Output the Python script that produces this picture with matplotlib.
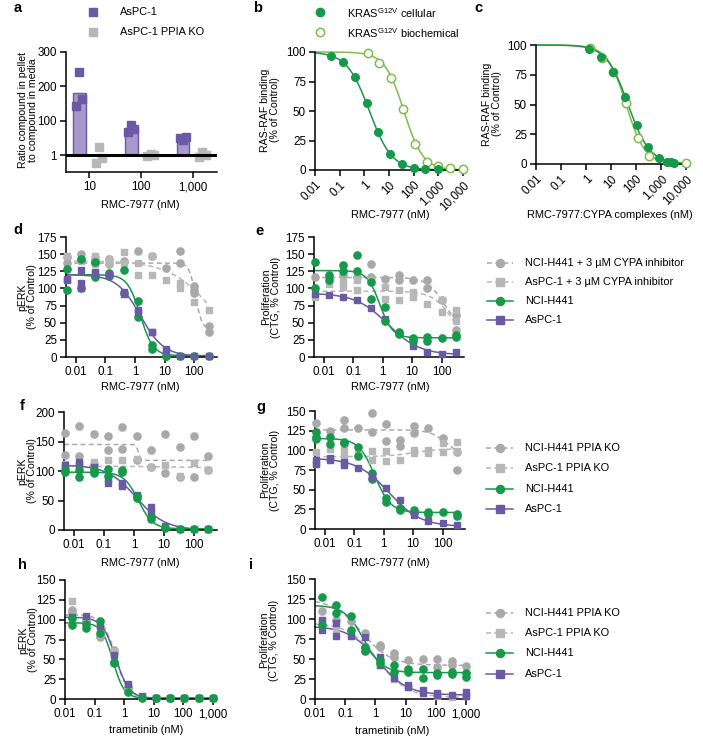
import numpy as np
import matplotlib
matplotlib.use("Agg")
import matplotlib.pyplot as plt
from matplotlib.lines import Line2D
from matplotlib.ticker import FixedLocator, NullLocator, FixedFormatter

plt.rcParams['font.family'] = ['Liberation Sans', 'DejaVu Sans']
plt.rcParams['mathtext.fontset'] = 'custom'
plt.rcParams['mathtext.rm'] = 'Liberation Sans'
plt.rcParams['mathtext.it'] = 'Liberation Sans'

# ---------------- data ----------------
# panel a
a_categories = ['10', '100', '1,000']
a_aspc_bar = [180, 38, 12]
a_aspc_pts = [[241, 143, 163], [61, 23, 34], [8, 10, 11.5]]
a_ko_pts = [[0.38, 3.2, 0.76], [0.9, 1.2, 1.1], [0.8, 1.66, 1.1]]

# panel b
b_conc_cell = [0.046, 0.137, 0.41, 1.23, 3.7, 11, 33, 100, 300, 1000]
b_cell = [96.6, 91.5, 78.8, 56.8, 32, 13.6, 5, 2, 1, 0.5]
b_conc_bio = [1.37, 4.1, 12.3, 37, 111, 333, 1000, 3000, 10000]
b_bio = [99, 91, 78, 52, 22, 7, 3, 1.5, 0.5]
b_fit_cell = (100, 0, 1.6, 0.95)
b_fit_bio = (100, 0, 40, 1.12)

# panel c
c_conc_cell = [1.3, 4, 12, 36, 110, 300, 830, 1800, 2600, 3300]
c_cell = [96.6, 90, 77, 56, 33, 14, 5, 1.5, 1.5, 0.5]
c_conc_bio = [1.4, 4.2, 12.5, 39, 120, 330, 10000]
c_bio = [97.5, 89, 77, 51, 22, 7, 0.5]
c_fit_cell = (100, 0, 48, 1.0)
c_fit_bio = (100, 0, 40, 1.15)

# RMC-7977 and trametinib concentrations (nM)
conc_rmc = [0.005, 0.015, 0.046, 0.137, 0.41, 1.23, 3.7, 11, 33, 100, 300]
conc_tram = [0.017, 0.051, 0.152, 0.457, 1.37, 4.1, 12.3, 37, 111, 333, 1000]

# panel d (pERK, +/- CYPA inhibitor)
d_h441 = [[129, 98], [143, 101], [138, 117], [122, 118], [127, 93], [81, 59], [18, 11], [2, 2], [2], [2], [2]]
d_aspc = [[114, 112], [127, 108, 101], [124, 122], [120], [95, 92], [68, 66], [37, 36], [11, 9], [2], [2], [2]]
d_h441_inh = [[146, 137], [150, 142], [145, 137], [143, 136], [140], [155], [148], [130], [155, 137], [103, 97, 93], [45, 36]]
d_aspc_inh = [[148], [140], [148, 135], [143, 137], [153, 137], [137, 119], [148, 120], [112], [108, 100], [80], [68]]
d_fit_h441 = (120, 2, 1.5, 2.0)
d_fit_aspc = (120, 1, 1.5, 1.1)
d_fit_h441_inh = (137, 40, 110, 4.0)
d_fit_aspc_inh = (140, 0, 400, 0.6)

# panel e (proliferation, +/- CYPA inhibitor)
e_h441 = [[138, 101], [120, 113], [134, 126], [149, 126], [109, 84], [73, 53], [36, 34], [27, 24], [29, 23], [28], [32, 29]]
e_aspc = [[92], [90], [87], [83], [72], [56], [35], [16], [8], [5], [7]]
e_h441_inh = [[117], [116], [119], [117], [136, 117], [114], [120, 112], [113], [112, 100], [83], [61, 39]]
e_aspc_inh = [[87], [107], [109, 102], [112, 97], [112], [102, 85], [97, 83], [95, 87], [78], [83, 66], [68, 53]]
e_fit_h441 = (126, 28, 0.8, 2.0)
e_fit_aspc = (93, 3, 1.5, 0.8)
e_fit_h441_inh = (116, 40, 120, 1.5)
e_fit_aspc_inh = (96, 0, 300, 1.2)

# panel f (pERK, PPIA KO)
f_h441_ko = [[164, 127], [176, 125], [163, 112], [160, 135], [175, 138], [160, 118], [135, 107], [163, 96], [141, 90], [159, 90], [125, 101]]
f_aspc_ko = [[112], [110], [115], [118], [118], [121], [107], [110], [91], [113], [101]]
f_h441 = [[101, 98], [101, 89], [102, 96], [103, 91], [101, 98], [57, 55], [22, 18], [3], [2], [2], [2]]
f_aspc = [[111, 107], [115, 112], [107, 104], [87, 79], [79, 74], [59, 57], [39, 31], [6], [2], [2], [2]]
f_fit_h441_ko = (145, 118, 1.4, 12)
f_fit_aspc_ko = (108, 106, 10, 1.0)
f_fit_h441 = (98, 2, 1.4, 1.8)
f_fit_aspc = (110, 0, 1.2, 0.9)

# panel g (proliferation, PPIA KO)
g_h441_ko = [[135], [125], [139, 128], [128], [147, 123], [133, 112], [113, 105], [131, 122], [129], [116], [98, 75]]
g_aspc_ko = [[98, 83], [102], [100, 91], [95], [99, 88], [99, 87], [88], [101, 97], [100, 97], [109, 98], [111, 99]]
g_h441 = [[123, 117, 115], [117, 108], [111, 109], [104, 93], [71, 63], [40, 34], [27, 24], [24, 20], [22, 19], [21], [19, 17]]
g_aspc = [[88, 83], [90, 88], [85, 81], [78], [68, 66], [52], [37], [18], [10], [7], [5]]
g_fit_h441_ko = (126, 90, 150, 1.5)
g_fit_aspc_ko = (92, 102, 10, 1.0)
g_fit_h441 = (115, 21, 0.5, 1.6)
g_fit_aspc = (90, 3, 1.5, 0.8)

# panel h (pERK, trametinib)
h_h441_ko = [[112, 108], [100, 98], [80, 78], [62, 58], [15, 14], [3], [1], [1], [1], [1], [1]]
h_aspc_ko = [[123], [100], [92], [60], [17], [3], [1], [1], [1], [1], [1]]
h_h441 = [[102, 93], [95, 90], [98, 83], [47, 45], [9], [1], [1], [1], [1], [1], [1]]
h_aspc = [[103], [105], [92], [55], [19], [4], [1], [1], [1], [1], [1]]
h_fit_h441_ko = (106, 1, 0.5, 2.0)
h_fit_aspc_ko = (106, 1, 0.52, 2.0)
h_fit_h441 = (96, 1, 0.42, 2.3)
h_fit_aspc = (103, 1, 0.52, 1.9)

# panel i (proliferation, trametinib)
i_h441_ko = [[110], [99], [98], [82], [68, 65], [57, 53], [49], [50], [50, 40], [47, 43], [41]]
i_aspc_ko = [[98], [87], [80], [65], [43], [25], [15], [7], [4], [3], [4]]
i_h441 = [[128, 93], [118, 107], [104, 86], [65, 60], [49, 45], [43, 34], [38, 34], [37, 26], [32, 30], [34, 31], [33, 28]]
i_aspc = [[99, 86], [95, 79], [79], [78, 61], [53, 43], [26], [18, 15], [11, 8], [7, 5], [5], [9, 4]]
i_fit_h441_ko = (125, 42, 0.35, 0.9)
i_fit_aspc_ko = (95, 2, 1.2, 0.9)
i_fit_h441 = (117, 33, 0.4, 1.4)
i_fit_aspc = (91, 5, 1.2, 0.9)

# ---------------- styles ----------------
GREEN = '#16994b'
LGREEN = '#7dbd4c'
PURPLE = '#6a5aa6'
BARFILL = '#a898cb'
GRAYC = '#a9a9a9'
GRAYS = '#b7b7b7'
TICK_FS = 8.4
LAB_FS = 7.9
YLAB_FS = 7.6
LEG_FS = 7.9
DASH = (3.2, 2.2)

W, H = 703, 744
fig = plt.figure(figsize=(W / 100, H / 100), dpi=100)


def add_ax(x0, y0, x1, y1):
    return fig.add_axes([x0 / W, 1 - y1 / H, (x1 - x0) / W, (y1 - y0) / H])


def style(ax):
    for s in ('top', 'right'):
        ax.spines[s].set_visible(False)
    for s in ('left', 'bottom'):
        ax.spines[s].set_linewidth(1.1)
    ax.tick_params(direction='out', length=4.5, width=1.1, labelsize=TICK_FS, pad=2)
    ax.tick_params(which='minor', length=0)


def ftext(x, y, s, **kw):
    fig.text(x / W, 1 - y / H, s, **kw)


def ylab(x, y, s):
    ftext(x, y, s, fontsize=YLAB_FS, rotation=90, ha='center', va='center', linespacing=1.0)


def xlab(x, y, s):
    ftext(x, y, s, fontsize=LAB_FS, ha='center', va='center')


def logistic(x, top, bottom, ic50, hill):
    return bottom + (top - bottom) / (1 + (x / ic50) ** hill)


def reps_xy(conc, reps):
    xs = [c for c, r in zip(conc, reps) for _ in r]
    ys = [v for r in reps for v in r]
    return xs, ys


S_H441 = dict(color=GREEN, marker='o', ms=5.2, mfc=GREEN, mec=GREEN, ls='-')
S_ASPC = dict(color=PURPLE, marker='s', ms=4.8, mfc=PURPLE, mec=PURPLE, ls='-')
S_H441G = dict(color=GRAYC, marker='o', ms=5.2, mfc=GRAYC, mec=GRAYC, ls='--')
S_ASPCG = dict(color=GRAYS, marker='s', ms=4.8, mfc=GRAYS, mec=GRAYS, ls='--')


def dose_panel(ax, conc, series, xlim, ylim, yticks, xticks, xticklabels):
    style(ax)
    ax.set_xscale('log')
    ax.set_xlim(*xlim)
    ax.set_ylim(*ylim)
    xc = np.logspace(np.log10(xlim[0]), np.log10(conc[-1]), 400)
    for reps, fit, st in series:
        xs, ys = reps_xy(conc, reps)
        ax.plot(xs, ys, ls='none', marker=st['marker'], ms=st['ms'], mfc=st['mfc'],
                mec=st['mec'], clip_on=False, zorder=3)
        kw = dict(color=st['color'], lw=1.1, zorder=2, clip_on=False)
        if st['ls'] == '--':
            kw['dashes'] = DASH
        ax.plot(xc, logistic(xc, *fit), **kw)
    ax.xaxis.set_major_locator(FixedLocator(xticks))
    ax.xaxis.set_major_formatter(FixedFormatter(xticklabels))
    ax.xaxis.set_minor_locator(NullLocator())
    ax.set_yticks(yticks)


def legend_rows(x0, x1, xt, ys, entries):
    for y, (label, st) in zip(ys, entries):
        yy = 1 - y / H
        kw = dict(color=st['color'], lw=1.1, transform=fig.transFigure)
        if st['ls'] == '--':
            kw['dashes'] = DASH
        fig.add_artist(Line2D([x0 / W, x1 / W], [yy, yy], **kw))
        fig.add_artist(Line2D([(x0 + x1) / 2 / W], [yy], ls='none', marker=st['marker'],
                              ms=st['ms'] + 0.6, mfc=st['mfc'], mec=st['mec'],
                              transform=fig.transFigure))
        fig.text(xt / W, yy, label, fontsize=LEG_FS, va='center', ha='left')


# ---------------- panel a ----------------
def fwd(v):
    v = np.asarray(v, dtype=float)
    lo = np.log10(np.where(v > 0, v, 1e-9)) / 2
    return np.where(v >= 100, v / 100, lo)


def inv(u):
    u = np.asarray(u, dtype=float)
    return np.where(u >= 1, u * 100, 10 ** (2 * u))


ax = add_ax(66, 52, 217, 172)
style(ax)
ax.set_yscale('function', functions=(fwd, inv))
ax.set_ylim(0.11, 300)
ax.set_xlim(-0.45, 2.46)
xpos = np.arange(len(a_categories))
ax.bar(xpos - 0.19, np.array(a_aspc_bar) - 1, bottom=1, width=0.24, color=BARFILL,
       edgecolor=PURPLE, linewidth=1.0, zorder=2)
p_off = [0.0, -0.07, 0.05]
k_off = [0.12, 0.18, 0.24]
for i, (pp, kk) in enumerate(zip(a_aspc_pts, a_ko_pts)):
    ax.plot([i - 0.19 + o for o in p_off], pp, ls='none', marker='s', ms=5.2,
            color=PURPLE, zorder=3, clip_on=False)
    ax.plot([i + o for o in k_off], kk, ls='none', marker='s', ms=5.2,
            color=GRAYS, zorder=3, clip_on=False)
ax.axhline(1, color='black', lw=2.2, zorder=4)
ax.yaxis.set_major_locator(FixedLocator([1, 100, 200, 300]))
ax.yaxis.set_major_formatter(FixedFormatter(['1', '100', '200', '300']))
ax.yaxis.set_minor_locator(NullLocator())
ax.set_xticks(xpos)
ax.set_xticklabels(a_categories)

for y, lab, col in [(12, 'AsPC-1', PURPLE), (32, 'AsPC-1 PPIA KO', GRAYS)]:
    fig.add_artist(Line2D([93 / W], [1 - y / H], ls='none', marker='s', ms=6, color=col,
                          transform=fig.transFigure))
    ftext(120, y, lab, fontsize=LEG_FS, va='center', ha='left')
ylab(28, 110, 'Ratio compound in pellet\nto compound in media')
xlab(140, 205, 'RMC-7977 (nM)')

# ---------------- panels b, c ----------------
bc_ticks = [0.01, 0.1, 1, 10, 100, 1000, 10000]
bc_labels = ['0.01', '0.1', '1', '10', '100', '1,000', '10,000']


def binding_panel(ax, ccell, vcell, fcell, cbio, vbio, fbio):
    style(ax)
    ax.set_xscale('log')
    ax.set_xlim(0.01, 12000)
    ax.set_ylim(0, 100)
    xc = np.logspace(-2, 4, 400)
    ax.plot(xc, logistic(xc, *fbio), color=LGREEN, lw=1.1, zorder=2, clip_on=False)
    ax.plot(xc, logistic(xc, *fcell), color=GREEN, lw=1.1, zorder=2, clip_on=False)
    ax.plot(cbio, vbio, ls='none', marker='o', ms=6, mfc='white', mec=LGREEN, mew=1.1,
            zorder=3, clip_on=False)
    ax.plot(ccell, vcell, ls='none', marker='o', ms=5.5, color=GREEN, zorder=4, clip_on=False)
    ax.xaxis.set_major_locator(FixedLocator(bc_ticks))
    ax.xaxis.set_major_formatter(FixedFormatter(bc_labels))
    ax.xaxis.set_minor_locator(NullLocator())
    ax.set_yticks([0, 25, 50, 75, 100])
    for t in ax.get_xticklabels():
        t.set_rotation(45)
        t.set_ha('right')
        t.set_va('top')
        t.set_rotation_mode('anchor')


ax = add_ax(315, 52, 465, 170)
binding_panel(ax, b_conc_cell, b_cell, b_fit_cell, b_conc_bio, b_bio, b_fit_bio)
ax = add_ax(536, 45, 688, 164)
binding_panel(ax, c_conc_cell, c_cell, c_fit_cell, c_conc_bio, c_bio, c_fit_bio)

fig.add_artist(Line2D([320 / W], [1 - 12 / H], ls='none', marker='o', ms=6, color=GREEN,
                      transform=fig.transFigure))
fig.add_artist(Line2D([320 / W], [1 - 32 / H], ls='none', marker='o', ms=6, mfc='white',
                      mec=LGREEN, mew=1.1, transform=fig.transFigure))
ftext(347, 13, r'KRAS$^{\mathrm{G12V}}$ cellular', fontsize=LEG_FS, va='center', ha='left')
ftext(347, 33, r'KRAS$^{\mathrm{G12V}}$ biochemical', fontsize=LEG_FS, va='center', ha='left')
ylab(270, 110, 'RAS-RAF binding\n(% of Control)')
ylab(492, 104, 'RAS-RAF binding\n(% of Control)')
xlab(390, 215, 'RMC-7977 (nM)')
xlab(610, 215, 'RMC-7977:CYPA complexes (nM)')

# ---------------- panels d-g ----------------
rmc_ticks = [0.01, 0.1, 1, 10, 100]
rmc_labels = ['0.01', '0.1', '1', '10', '100']
RMC_XLIM = (0.0047, 580)

ax = add_ax(66, 237, 217, 357)
dose_panel(ax, conc_rmc, [(d_h441_inh, d_fit_h441_inh, S_H441G), (d_aspc_inh, d_fit_aspc_inh, S_ASPCG),
                          (d_h441, d_fit_h441, S_H441), (d_aspc, d_fit_aspc, S_ASPC)],
           RMC_XLIM, (0, 175), range(0, 176, 25), rmc_ticks, rmc_labels)
ax = add_ax(314, 237, 464, 357)
dose_panel(ax, conc_rmc, [(e_h441_inh, e_fit_h441_inh, S_H441G), (e_aspc_inh, e_fit_aspc_inh, S_ASPCG),
                          (e_aspc, e_fit_aspc, S_ASPC), (e_h441, e_fit_h441, S_H441)],
           RMC_XLIM, (0, 175), range(0, 176, 25), rmc_ticks, rmc_labels)
ax = add_ax(64, 412, 217, 530)
dose_panel(ax, conc_rmc, [(f_h441_ko, f_fit_h441_ko, S_H441G), (f_aspc_ko, f_fit_aspc_ko, S_ASPCG),
                          (f_aspc, f_fit_aspc, S_ASPC), (f_h441, f_fit_h441, S_H441)],
           RMC_XLIM, (0, 200), range(0, 201, 50), rmc_ticks, rmc_labels)
ax = add_ax(315, 411, 465, 529)
dose_panel(ax, conc_rmc, [(g_h441_ko, g_fit_h441_ko, S_H441G), (g_aspc_ko, g_fit_aspc_ko, S_ASPCG),
                          (g_h441, g_fit_h441, S_H441), (g_aspc, g_fit_aspc, S_ASPC)],
           RMC_XLIM, (0, 150), range(0, 151, 25), rmc_ticks, rmc_labels)

# ---------------- panels h, i ----------------
tram_ticks = [0.01, 0.1, 1, 10, 100, 1000]
tram_labels = ['0.01', '0.1', '1', '10', '100', '1,000']
ax = add_ax(65, 580, 217, 699)
dose_panel(ax, conc_tram, [(h_h441_ko, h_fit_h441_ko, S_H441G), (h_aspc_ko, h_fit_aspc_ko, S_ASPCG),
                           (h_aspc, h_fit_aspc, S_ASPC), (h_h441, h_fit_h441, S_H441)],
           (0.01, 1400), (0, 150), range(0, 151, 25), tram_ticks, tram_labels)
ax = add_ax(315, 579, 468, 699)
dose_panel(ax, conc_tram, [(i_h441_ko, i_fit_h441_ko, S_H441G), (i_aspc_ko, i_fit_aspc_ko, S_ASPCG),
                           (i_aspc, i_fit_aspc, S_ASPC), (i_h441, i_fit_h441, S_H441)],
           (0.01, 1150), (0, 150), range(0, 151, 25), tram_ticks, tram_labels)

# axis titles
ylab(27, 297, 'pERK\n(% of Control)')
ylab(271, 297, 'Proliferation\n(CTG, % Control)')
ylab(27, 471, 'pERK\n(% of Control)')
ylab(270, 470, 'Proliferation\n(CTG, % Control)')
ylab(28, 640, 'pERK\n(% of Control)')
ylab(269, 640, 'Proliferation\n(CTG, % Control)')
xlab(140, 387, 'RMC-7977 (nM)')
xlab(390, 387, 'RMC-7977 (nM)')
xlab(140, 563, 'RMC-7977 (nM)')
xlab(390, 563, 'RMC-7977 (nM)')
xlab(146, 730, 'trametinib (nM)')
xlab(392, 731, 'trametinib (nM)')

# legends
legend_rows(487, 513, 525, [263, 282, 301, 320],
            [('NCI-H441 + 3 µM CYPA inhibitor', S_H441G), ('AsPC-1 + 3 µM CYPA inhibitor', S_ASPCG),
             ('NCI-H441', S_H441), ('AsPC-1', S_ASPC)])
ko_entries = [('NCI-H441 PPIA KO', S_H441G), ('AsPC-1 PPIA KO', S_ASPCG),
              ('NCI-H441', S_H441), ('AsPC-1', S_ASPC)]
legend_rows(486, 513, 525, [448, 468, 489, 509], ko_entries)
legend_rows(486, 513, 525, [613, 633, 653, 674], ko_entries)

# panel letters
for lab, x, y in [('a', 18, 8), ('b', 258, 8), ('c', 478, 8), ('d', 18, 230), ('e', 260, 231),
                  ('f', 22, 406), ('g', 261, 407), ('h', 22, 565), ('i', 251, 565)]:
    ftext(x, y, lab, fontsize=10.5, fontweight='bold', ha='center', va='center')

fig.savefig('out.png', dpi=100)
